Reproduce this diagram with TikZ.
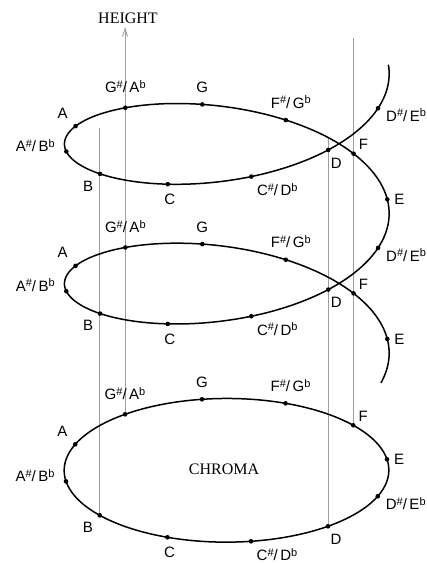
\documentclass[tikz,border=0pt]{standalone}
\usepackage{fontspec}
\setmainfont{Liberation Sans}
\newfontfamily\serfont{Liberation Serif}
\usetikzlibrary{arrows.meta}
\tikzset{lab/.style={font=\fontsize{15}{15}\selectfont,inner sep=0pt},ttl/.style={font=\serfont\fontsize{16}{16}\selectfont,inner sep=0pt},guide/.style={draw=black!38,line width=0.8pt},curve/.style={line width=1.5pt}}
\newcommand\enh[2]{#1\raisebox{.55ex}{\fontsize{11}{11}\selectfont\#}/\,#2\raisebox{.55ex}{\fontsize{11}{11}\selectfont b}}

\begin{document}
\begin{tikzpicture}[x=1pt,y=-1pt]
\useasboundingbox(0,0)rectangle(427,563);
% chroma circle and helix points, k=0 is E
\foreach\k in{0,...,11}{
 \pgfmathsetmacro\px{226.5+160.5*cos(30*\k)-24.5*sin(30*\k)}
 \pgfmathsetmacro\py{470.3-11*cos(30*\k)-71*sin(30*\k)}
 \coordinate(c\k)at(\px,\py);}
\foreach\k in{0,...,23}{
 \pgfmathsetmacro\px{226.8+160.5*cos(30*\k)-24.5*sin(30*\k)}
 \pgfmathsetmacro\py{350-11*cos(30*\k)-71*sin(30*\k)-11.64*\k}
 \coordinate(h\k)at(\px,\py);}
% guides
\coordinate(axtop)at(0,27);\coordinate(btop)at(0,128);\coordinate(dtop)at(0,138);\coordinate(ftop)at(0,38);
\draw[guide,-{Straight Barb[length=8pt,width=5pt,line width=0.9pt]}](c4)--(c4|-axtop);
\draw[guide](c7)--(c7|-btop);\draw[guide](c10)--(c10|-dtop);\draw[guide](c1)--(c1|-ftop);
% curves
\draw[curve]plot[domain=0:357,samples=120,smooth cycle,variable=\t]({226.5+160.5*cos(\t)-24.5*sin(\t)},{470.3-11*cos(\t)-71*sin(\t)});
\draw[curve]plot[domain=-0.9:23.9,samples=400,smooth,variable=\t]({226.8+160.5*cos(30*\t)-24.5*sin(30*\t)},{350-11*cos(30*\t)-71*sin(30*\t)-11.64*\t});
\foreach\k in{0,...,11}\fill(c\k)circle(2.3);
\foreach\k in{0,...,23}\fill(h\k)circle(2.3);
% note names
\foreach\k/\txt/\dx/\dy in{0/E/12/0,1/F/10/-9,2/{\enh{F}{G}}/5/-18,3/G/0/-17,4/{\enh{G}{A}}/0/-21,5/A/-13/-13,
 6/{\enh{A}{B}}/-31/-6,7/B/-12/12,8/C/2/15,9/{\enh{C}{D}}/26/13,10/D/8/13,11/{\enh{D}{E}}/28/7}{
 \pgfmathtruncatemacro\kk{\k+12}
 \node[lab](cl\k)at([shift={(\dx,\dy)}]c\k){\txt};
 \node[lab](hl\k)at([shift={(\dx,\dy)}]h\k){\txt};
 \node[lab](hl\kk)at([shift={(\dx,\dy)}]h\kk){\txt};}
\node[ttl](height)at(128,18){HEIGHT};
\node[ttl](chroma)at(224,469){CHROMA};
\end{tikzpicture}
\end{document}
